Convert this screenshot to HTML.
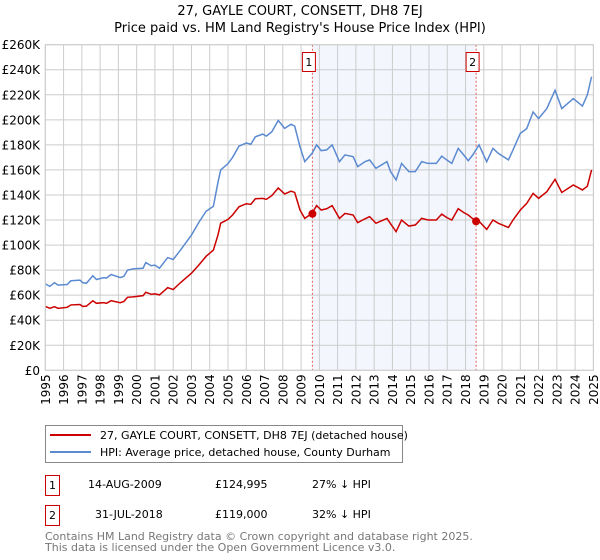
<!DOCTYPE html>
<html><head><meta charset="utf-8"><style>
body{margin:0;background:#fff;font-family:"Liberation Sans","DejaVu Sans",sans-serif}
svg{display:block}
</style></head><body>
<svg id="c" width="600" height="560" xmlns="http://www.w3.org/2000/svg" font-family="DejaVu Sans, Liberation Sans, sans-serif">
<text x="300" y="15" text-anchor="middle" font-size="13">27, GAYLE COURT, CONSETT, DH8 7EJ</text>
<text x="300" y="32" text-anchor="middle" font-size="13">Price paid vs. HM Land Registry's House Price Index (HPI)</text>
<g id="plot"></g>
<g>
<rect x="45.5" y="425.5" width="357" height="37" fill="#fff" stroke="#888"/>
<line x1="50" y1="435" x2="91" y2="435" stroke="#cc0000" stroke-width="2"/>
<text x="100" y="439" font-size="11">27, GAYLE COURT, CONSETT, DH8 7EJ (detached house)</text>
<line x1="50" y1="452" x2="91" y2="452" stroke="#5b8ad0" stroke-width="2"/>
<text x="100" y="456" font-size="11">HPI: Average price, detached house, County Durham</text>
</g>
<g font-size="11">
<rect x="45.5" y="475.5" width="14" height="20" fill="#fff" stroke="#cc0000"/>
<text x="52.5" y="489" text-anchor="middle">1</text>
<text x="88" y="488">14-AUG-2009</text><text x="215" y="488">£124,995</text><text x="312" y="488">27% ↓ HPI</text>
<rect x="45.5" y="505.5" width="14" height="20" fill="#fff" stroke="#cc0000"/>
<text x="52.5" y="519" text-anchor="middle">2</text>
<text x="95" y="518">31-JUL-2018</text><text x="215" y="518">£119,000</text><text x="312" y="518">32% ↓ HPI</text>
</g>
<text x="45" y="540" font-size="11" fill="#777">Contains HM Land Registry data © Crown copyright and database right 2025.</text>
<text x="45" y="551" font-size="11" fill="#777">This data is licensed under the Open Government Licence v3.0.</text>
</svg>
<script>
const hpiYears=[1995,1995.25,1995.5,1995.7,1996.2,1996.4,1996.9,1997.05,1997.25,1997.6,1997.8,1998.2,1998.35,1998.6,1999.1,1999.3,1999.5,1999.8,2000.35,2000.5,2000.8,2001,2001.25,2001.7,2002,2002.4,2003,2003.4,2003.8,2004.2,2004.45,2004.6,2005,2005.25,2005.6,2006,2006.25,2006.5,2006.9,2007.1,2007.4,2007.75,2008.1,2008.45,2008.65,2008.94,2009.2,2009.6,2009.85,2010.1,2010.4,2010.7,2011.1,2011.4,2011.85,2012.1,2012.5,2012.75,2013.1,2013.7,2013.9,2014.2,2014.5,2014.9,2015.25,2015.6,2015.95,2016.4,2016.7,2016.97,2017.25,2017.6,2017.9,2018.15,2018.4,2018.74,2019.16,2019.5,2019.8,2020.35,2020.6,2021,2021.35,2021.7,2022,2022.45,2022.9,2023.27,2023.9,2024.4,2024.67,2024.9];
const hpiValues=[69,67,70,68,68.5,71.5,72,70,69.5,75.5,72.5,74,73.6,76.5,74,75,80,81,81.5,86,83.5,84,81.5,90,88.5,96,108,118,127,131,150,160,165,170,179,181.5,180.5,186.5,188.6,187,190.5,199.5,193.2,196.5,195,178.6,166.6,173.2,180,175.4,176,180,166.6,172,170.6,162.6,166.6,168,161.3,166.6,158.6,152,165.2,158.6,158.6,166.6,165.2,165.2,171,168,165.2,177.2,172,167.4,172,180,166.6,177.2,173.2,168,176,189.2,193,206.3,201,209,223.6,209,217,211,220,234.4];
const priceValues=[51,49.5,50.8,49.5,50.3,52.2,52.5,51,51.2,55.5,53.5,54,53.5,55.6,54,55,58.3,58.6,59.6,62.3,60.7,61,60.2,66,64.5,70,77.5,84,91,96,108,117.5,120.5,124,130.6,133,132.5,137,137.3,136.5,139.5,145.6,140.8,143,142,128,121.3,125.3,131.5,128,129,131.5,121.3,125.3,124,117.9,121,122.7,117.4,121.3,117,110.7,120,115.2,116,121.3,120,120,124.7,122,120,129,126,124,121,119,112.5,120,117.4,114.1,120,128,133.3,141.3,137.3,142.6,152.5,142,148,144,147,160];
const saleYears=[2009.62,2018.58];
const saleValues=[124.995,119.0];
const yTicks=[0,20,40,60,80,100,120,140,160,180,200,220,240,260];
const xTicks=[1995,1996,1997,1998,1999,2000,2001,2002,2003,2004,2005,2006,2007,2008,2009,2010,2011,2012,2013,2014,2015,2016,2017,2018,2019,2020,2021,2022,2023,2024,2025];
const NS='http://www.w3.org/2000/svg';
const X0=45.3,X1=593.4,Y0=370.3,Y1=44.7;
const xs=y=>X0+(y-1995)/30*(X1-X0);
const ys=v=>Y0-v/260*(Y0-Y1);
const g=document.getElementById('plot');
function mk(t,a){const e=document.createElementNS(NS,t);for(const k in a)e.setAttribute(k,a[k]);g.appendChild(e);return e;}
let e=mk('rect',{x:xs(saleYears[0]),y:Y1,width:xs(saleYears[1])-xs(saleYears[0]),height:Y0-Y1,fill:'#f3f6fd'});


yTicks.forEach(v=>{
 let l=mk('line',{x1:X0,x2:X1,y1:ys(v),y2:ys(v),stroke:'#cccccc','stroke-width':1});
 
 
 let t=mk('text',{x:40,y:ys(v)+4.5,'text-anchor':'end','font-size':12});
 t.textContent='£'+(v===0?'0':v+'K');
 
 
});
xTicks.forEach(yr=>{
 let l=mk('line',{x1:xs(yr),x2:xs(yr),y1:Y1,y2:Y0,stroke:'#cccccc','stroke-width':1});
 
 
 let t=mk('text',{x:0,y:0,'text-anchor':'end','font-size':12,transform:`translate(${xs(yr)+4.5},${Y0+4}) rotate(-90)`});
 t.textContent=yr;
 
 
});
saleYears.forEach((yr,i)=>{
 let l=mk('line',{x1:xs(yr),x2:xs(yr),y1:Y1,y2:Y0,stroke:'#e06060','stroke-width':1,'stroke-dasharray':'2,2'});
 
 
 let r=mk('rect',{x:xs(yr)-10,y:52.5,width:13,height:19,fill:'#fff',stroke:'#cc0000'});
 
 
 let t=mk('text',{x:xs(yr)-3.5,y:66,'text-anchor':'middle','font-size':11});
 t.textContent=String(i+1);
 
 
});
let p=mk('polyline',{points:hpiYears.map((y,i)=>xs(y)+','+ys(hpiValues[i])).join(' '),fill:'none',stroke:'#5b8ad0','stroke-width':1.5});


let q=mk('polyline',{points:hpiYears.map((y,i)=>xs(y)+','+ys(priceValues[i])).join(' '),fill:'none',stroke:'#cc0000','stroke-width':1.5});


saleYears.forEach((yr,i)=>{
 let c=mk('circle',{cx:xs(yr),cy:ys(saleValues[i]),r:4,fill:'#cc0000'});
 
 
});
let b=mk('rect',{x:X0,y:Y1,width:X1-X0,height:Y0-Y1,fill:'none',stroke:'#cccccc'});


</script>
</body></html>
